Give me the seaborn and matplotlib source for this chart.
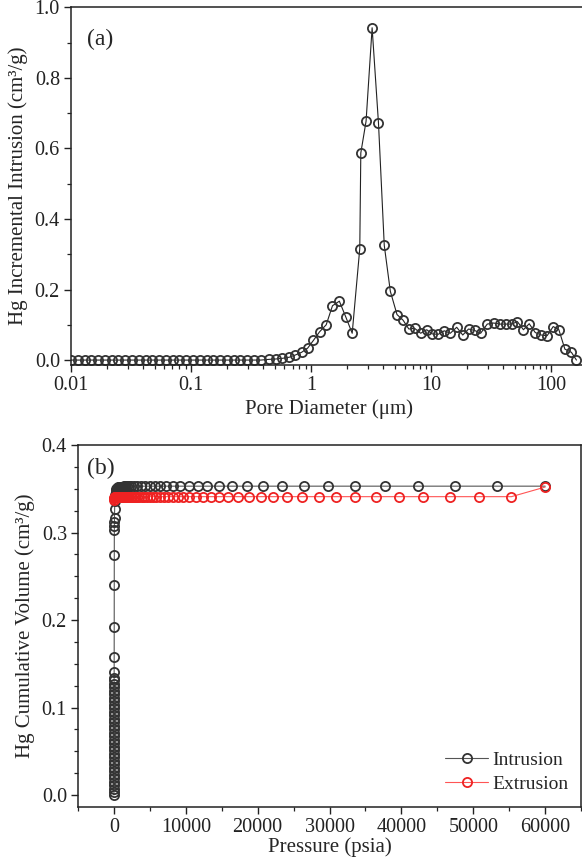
import matplotlib
matplotlib.use("Agg")
import matplotlib.pyplot as plt
import matplotlib.ticker as mticker
import pandas as pd
import seaborn as sns

# ---- panel (a): incremental intrusion vs pore diameter ----
diameter_um = [
    0.0100, 0.01139, 0.01297, 0.01477, 0.01682, 0.01915, 0.02182, 0.02484,
    0.02829, 0.03221, 0.03669, 0.04177, 0.04758, 0.05418, 0.0617, 0.07026,
    0.08001, 0.0911, 0.1038, 0.1182, 0.1346, 0.1532, 0.1745, 0.1987,
    0.2263, 0.2577, 0.2935, 0.3342, 0.3806,
    0.4453, 0.5061, 0.5764, 0.6567, 0.7346, 0.8333, 0.9363, 1.046,
    1.175, 1.335, 1.506, 1.718, 1.945, 2.198, 2.542, 2.593,
    2.868, 3.221, 3.640, 4.066, 4.567, 5.192, 5.834, 6.514,
    7.274, 8.174, 9.182, 10.23, 11.43, 12.85, 14.43, 16.31,
    18.32, 20.46, 22.98, 25.82, 29.29, 33.10, 37.33, 41.69,
    46.83, 52.22, 58.66, 65.52, 73.60, 82.67, 92.36, 103.8,
    115.7, 129.9, 147.2, 162.1,
]
incremental = [
    0.0, 0.0, 0.0, 0.0, 0.0, 0.0, 0.0, 0.0,
    0.0, 0.0, 0.0, 0.0, 0.0, 0.0, 0.0, 0.0,
    0.0, 0.0, 0.0, 0.0, 0.0, 0.0, 0.0, 0.0,
    0.0, 0.0, 0.0, 0.0, 0.0,
    0.002, 0.003, 0.005, 0.008, 0.014, 0.022, 0.034, 0.056,
    0.080, 0.100, 0.154, 0.167, 0.122, 0.076, 0.316, 0.587,
    0.677, 0.942, 0.671, 0.325, 0.195, 0.129, 0.113, 0.088,
    0.090, 0.076, 0.086, 0.074, 0.073, 0.083, 0.076, 0.093,
    0.071, 0.088, 0.084, 0.076, 0.102, 0.105, 0.102, 0.102,
    0.102, 0.109, 0.086, 0.103, 0.078, 0.071, 0.069, 0.095,
    0.086, 0.031, 0.022, 0.0,
]

# ---- panel (b): cumulative volume vs pressure ----
intrusion_psia = [
    1.5, 2.0, 2.5, 3.0, 3.5, 4.0, 4.5, 5.0, 5.5, 6.0,
    6.5, 7.0, 7.5, 8.0, 8.5, 9.0, 9.5, 10, 11, 12,
    13, 14, 15, 16, 17, 18, 19, 20, 21, 22,
    23, 24, 25, 27, 29, 31, 35, 40, 45, 50,
    55, 60, 70, 80, 100, 130, 170, 230, 300,
    450, 520, 600, 700, 800, 920, 1060, 1220, 1400, 1610,
    1850, 2120, 2440, 2800, 3220, 3700, 4300, 5000, 5700, 6400,
    7200, 8200, 9250, 10400, 11650, 13000, 14600, 16450, 18450, 20750,
    23400, 26400, 29800, 33600, 37700, 42300, 47500, 53300, 60000,
]
intrusion_vol = [
    0.000, 0.003, 0.007, 0.011, 0.015, 0.019, 0.023, 0.027, 0.031, 0.035,
    0.039, 0.043, 0.047, 0.051, 0.055, 0.059, 0.063, 0.067, 0.071, 0.075,
    0.079, 0.083, 0.087, 0.091, 0.095, 0.099, 0.103, 0.107, 0.111, 0.115,
    0.119, 0.123, 0.127, 0.131, 0.134, 0.141, 0.158, 0.192, 0.240, 0.274,
    0.303, 0.307, 0.312, 0.317, 0.327, 0.336, 0.343, 0.348, 0.350,
    0.351, 0.351, 0.352, 0.352, 0.352, 0.352, 0.352, 0.352, 0.353, 0.353,
    0.353, 0.353, 0.353, 0.353, 0.353, 0.353, 0.353, 0.353, 0.353, 0.353,
    0.353, 0.353, 0.353, 0.353, 0.353, 0.353, 0.353, 0.353, 0.353, 0.353,
    0.353, 0.353, 0.353, 0.353, 0.353, 0.353, 0.353, 0.353, 0.353,
]
extrusion_psia = [
    60000, 55300, 50850, 46770, 43050, 39640, 36490, 33590, 30900, 28480,
    26200, 24030, 22170, 20470, 18810, 17310, 15920, 14650, 13480, 12400,
    11400, 10500, 9650, 8880, 8170, 7520, 6920, 6360, 5850, 5380,
    4950, 4560, 4190, 3860, 3550, 3260, 3000, 2760, 2540, 2340,
    2150, 1980, 1820, 1680, 1540, 1420, 1300, 1200, 1100, 1010,
    930, 860, 790, 720, 660, 610, 560, 500, 440, 380,
    320, 260, 200, 150, 100, 60, 30, 15,
]
extrusion_vol = [
    0.352, 0.341, 0.341, 0.341, 0.341, 0.341, 0.341, 0.341, 0.341, 0.341,
    0.341, 0.341, 0.341, 0.341, 0.341, 0.341, 0.341, 0.341, 0.341, 0.341,
    0.341, 0.341, 0.341, 0.341, 0.341, 0.341, 0.341, 0.341, 0.341, 0.341,
    0.341, 0.341, 0.341, 0.341, 0.341, 0.341, 0.341, 0.341, 0.341, 0.341,
    0.341, 0.341, 0.341, 0.341, 0.341, 0.341, 0.341, 0.341, 0.341, 0.341,
    0.341, 0.341, 0.341, 0.341, 0.341, 0.341, 0.341, 0.341, 0.341, 0.341,
    0.341, 0.341, 0.341, 0.341, 0.341, 0.340, 0.339, 0.337,
]

df_a = pd.DataFrame({'d': diameter_um, 'v': incremental})
df_in = pd.DataFrame({'p': intrusion_psia, 'v': intrusion_vol})
df_ex = pd.DataFrame({'p': extrusion_psia, 'v': extrusion_vol})

sns.set_style('ticks')
plt.rcParams['font.family'] = ['Liberation Serif', 'DejaVu Serif']
plt.rcParams['xtick.direction'] = 'out'
plt.rcParams['ytick.direction'] = 'out'

TICK_FS = 14.5
LAB_FS = 15

fig = plt.figure(figsize=(5.82, 8.57), dpi=100)
ax1 = fig.add_axes([0.122, 0.574, 0.885, 0.4175])
ax2 = fig.add_axes([0.134, 0.0583, 0.8645, 0.4224])

mk = dict(marker='o', markersize=6.6, markerfacecolor='none', markeredgewidth=1.3)

# (a)
sns.lineplot(data=df_a, x='d', y='v', ax=ax1, sort=False, estimator=None,
             color='#222222', linewidth=0.8, markeredgecolor='#333333', **mk)
ax1.set_xscale('log')
ax1.set_xlim(0.01, 195)
ax1.set_ylim(-0.0142, 1.0)
ax1.set_xticks([0.01, 0.1, 1, 10, 100])
ax1.xaxis.set_major_formatter(mticker.FormatStrFormatter('%g'))
ax1.xaxis.set_minor_locator(mticker.LogLocator(base=10, subs=range(2, 10)))
ax1.xaxis.set_minor_formatter(mticker.NullFormatter())
ax1.set_yticks([0.0, 0.2, 0.4, 0.6, 0.8, 1.0])
ax1.yaxis.set_major_formatter(mticker.FormatStrFormatter('%.1f'))
ax1.yaxis.set_minor_locator(mticker.MultipleLocator(0.1))
ax1.set_xlabel('Pore Diameter (\u03bcm)', fontsize=LAB_FS, labelpad=3)
ax1.set_ylabel('Hg Incremental Intrusion (cm\u00b3/g)', fontsize=LAB_FS, labelpad=5)
ax1.text(0.057, 0.909, '(a)', transform=ax1.transAxes, fontsize=17,
         ha='center', va='center')

# (b)
sns.lineplot(data=df_in, x='p', y='v', ax=ax2, sort=False, estimator=None,
             color='#555555', linewidth=0.8, markeredgecolor='#333333',
             label='Intrusion', **mk)
sns.lineplot(data=df_ex, x='p', y='v', ax=ax2, sort=False, estimator=None,
             color='#ff5555', linewidth=0.8, markeredgecolor='#ee2222',
             label='Extrusion', **mk)
ax2.set_xlim(-5000, 65000)
ax2.set_ylim(-0.0137, 0.4)
ax2.xaxis.set_major_locator(mticker.MultipleLocator(10000))
ax2.xaxis.set_minor_locator(mticker.MultipleLocator(5000))
ax2.yaxis.set_major_locator(mticker.MultipleLocator(0.1))
ax2.yaxis.set_minor_locator(mticker.MultipleLocator(0.025))
ax2.yaxis.set_major_formatter(mticker.FormatStrFormatter('%.1f'))
ax2.set_xlabel('Pressure (psia)', fontsize=LAB_FS, labelpad=0)
ax2.set_ylabel('Hg Cumulative Volume (cm\u00b3/g)', fontsize=LAB_FS, labelpad=5)
ax2.text(0.046, 0.936, '(b)', transform=ax2.transAxes, fontsize=17,
         ha='center', va='center')
ax2.legend(loc='center left', bbox_to_anchor=(0.73, 0.097), frameon=False,
           fontsize=14, handlelength=2.2, handletextpad=0.2,
           labelspacing=0.35, borderpad=0, borderaxespad=0)

for ax in (ax1, ax2):
    for s in ax.spines.values():
        s.set_linewidth(1.1)
        s.set_color('#222222')
        s.set_visible(True)
    ax.tick_params(which='major', length=5, width=1.0, labelsize=TICK_FS,
                   colors='#222222', pad=3)
    ax.tick_params(which='minor', length=3, width=0.9, colors='#222222')
    ax.grid(False)

fig.savefig('out.png', dpi=100)
